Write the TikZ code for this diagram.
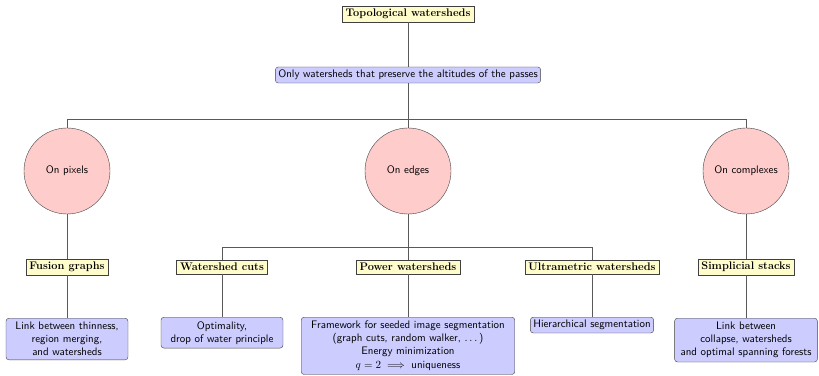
\documentclass[tikz,border=0pt]{standalone}
\usepackage{amsmath,amsfonts}
\usepackage{tikz}
\usetikzlibrary{positioning}

\begin{document}
\begin{tikzpicture}[x=1pt, y=1pt,
    font=\sffamily\fontsize{10.9}{13}\selectfont,
    link/.style={line width=0.9pt, draw=black!65},
    title/.style={draw=black!75, fill=yellow!20, inner xsep=3.5pt, inner ysep=3pt, font=\rmfamily\fontsize{11}{13}\selectfont\bfseries},
    remark/.style={draw=black!75, fill=blue!20, rounded corners=3pt, inner sep=3pt, align=center},
    note/.style={remark, inner xsep=8pt, inner ysep=4pt, anchor=north},
    support/.style={draw=black!75, fill=red!20, circle, minimum size=86pt, inner sep=0pt}]

% Set the size of the figure
\useasboundingbox (0,0) rectangle (819,375);

% Root and its remark
\node[title] (topo) at (408,361) {Topological watersheds};
\node[remark] (only) at (408,300) {Only watersheds that preserve the altitudes of the passes};

% The three supports
\node[support] (pixels) at (67,204) {On pixels};
\node[support] (edges) at (408,204) {On edges};
\node[support] (complexes) at (746,204) {On complexes};

% The frameworks
\node[title] (fusion) at (67,108) {Fusion graphs};
\node[title] (cuts) at (222,108) {Watershed cuts};
\node[title] (power) at (408,108) {Power watersheds};
\node[title] (ultra) at (592,108) {Ultrametric watersheds};
\node[title] (stacks) at (746,108) {Simplicial stacks};

% What each one brings
\node[note, minimum width=122pt] (thinness) at (67,57) {Link between thinness,\\ region merging,\\ and watersheds};
\node[note, minimum width=122pt] (optimality) at (222,58) {Optimality,\\ drop of water principle};
\node[note, inner xsep=10pt, inner ysep=3.5pt] (framework) at (408,58) {Framework for seeded image segmentation\\ (graph cuts, random walker, $\dots$)\\ Energy minimization\\[1.5pt] $q=2 \implies$ uniqueness};
\node[remark, anchor=north] (hierarchy) at (592,58) {Hierarchical segmentation};
\node[note, inner xsep=6pt] (collapse) at (746,57) {Link between\\ collapse, watersheds\\ and optimal spanning forests};

% Bars of the tree
\coordinate (bar1) at (408,256);
\coordinate (bar2) at (408,128);

% Connectors
\draw[link] (topo) -- (only);
\draw[link] (only) -- (bar1);
\draw[link] (bar1) -| (pixels);
\draw[link] (bar1) -- (edges);
\draw[link] (bar1) -| (complexes);
\draw[link] (pixels) -- (fusion);
\draw[link] (complexes) -- (stacks);
\draw[link] (edges) -- (bar2);
\draw[link] (bar2) -| (cuts);
\draw[link] (bar2) -- (power);
\draw[link] (bar2) -| (ultra);
\draw[link] (fusion) -- (thinness);
\draw[link] (cuts) -- (optimality);
\draw[link] (power) -- (framework);
\draw[link] (ultra) -- (hierarchy);
\draw[link] (stacks) -- (collapse);
\end{tikzpicture}
\end{document}
